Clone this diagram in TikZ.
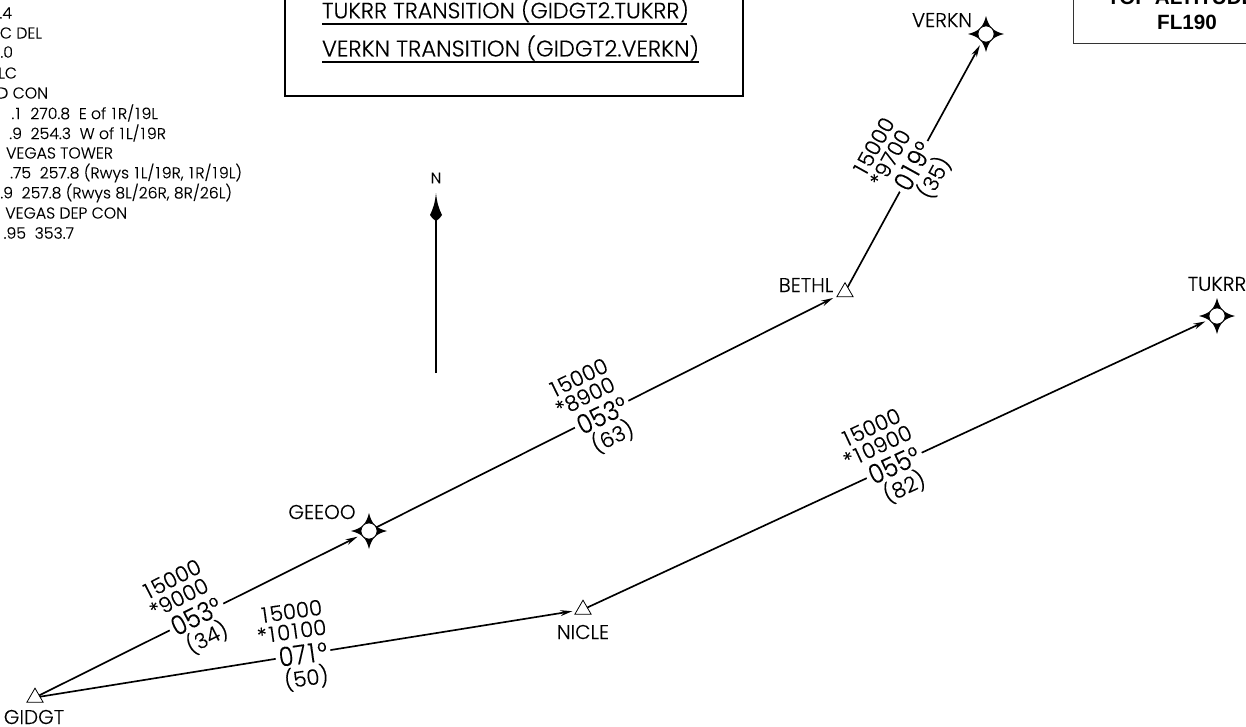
\documentclass[tikz,border=0pt]{standalone}
\usepackage{fontspec}
\usetikzlibrary{arrows.meta,shapes.geometric}
\setmainfont{Poppins Light}[FakeBold=0.2]
\newfontfamily\headf{Poppins Light}[FakeStretch=0.9,FakeBold=0.2]
\newfontfamily\boldf{Liberation Sans Bold}
\newcommand{\fs}[1]{\fontsize{#1}{#1}\selectfont}
\newcommand{\uno}{\kern.08em 1\kern.1em}
\tikzset{
 x=0.75pt,y=-0.75pt,
 inner sep=0pt,outer sep=0pt,
 wplabel/.style={font=\fs{15}},
 altlabel/.style={font=\fs{16}},
 headlabel/.style={font=\headf\fs{20},fill=white,inner xsep=2.4pt,inner ysep=0.5pt},
 info/.style={font=\fs{11.8},anchor=east},
 title/.style={font=\fs{17},anchor=west},
 triwp/.style={regular polygon,regular polygon sides=3,draw=black,line width=0.6pt,minimum size=14pt},
 starcore/.style={circle,draw=black,line width=0.5pt,fill=white,minimum size=12pt},
 leg/.style={line width=1.25pt,draw=black},
 legarrow/.style={leg,-{Stealth[length=9pt,width=4.4pt]},shorten >=3.6pt},
 boxline/.style={line width=1.5pt,draw=black},
 thinbox/.style={line width=0.75pt,draw=black!80},
 under/.style={line width=0.85pt,draw=black},
}
\newcommand{\wpstar}[3]{%
 \begin{scope}[shift={(#2,#3)}]
  \fill[black] (0,-18) .. controls (1.5,-12) and (3.5,-8) .. (6,-6)
   .. controls (8,-3.5) and (12,-1.5) .. (18,0)
   .. controls (12,1.5) and (8,3.5) .. (6,6)
   .. controls (3.5,8) and (1.5,12) .. (0,18)
   .. controls (-1.5,12) and (-3.5,8) .. (-6,6)
   .. controls (-8,3.5) and (-12,1.5) .. (-18,0)
   .. controls (-12,-1.5) and (-8,-3.5) .. (-6,-6)
   .. controls (-3.5,-8) and (-1.5,-12) .. (0,-18) -- cycle;
  \node[starcore] (#1) at (0,0) {};
 \end{scope}}
\newcommand{\leglab}[9]{%
 \begin{scope}[shift={(#2,#3)},rotate=#4,transform shape]
  \node[headlabel] (#1h) at (0,0) {#7};
  \node[altlabel] (#1a) at (-5+#9,-44) {#5};
  \node[altlabel] (#1b) at (-7+#9,-24) {#6};
  \node[altlabel] (#1c) at (0,24) {#8};
 \end{scope}}
\begin{document}
\begin{tikzpicture}
\useasboundingbox (0,0) rectangle (1246,726);
\clip (0,0) rectangle (1246,726);
% top-left information
\node[info] (i1) at (12,13) {.4};
\node[info] (i2) at (42,33) {C DEL};
\node[info] (i3) at (13,52) {.0};
\node[info] (i4) at (17,73) {LC};
\node[info] (i5) at (48,93) {D CON};
\node[info] (i6) at (158,113) {.\uno\ \ 270.8\ \ E of \uno R/\uno 9L};
\node[info] (i7) at (166,133) {.9\ \ 254.3\ \ W of \uno L/\uno 9R};
\node[info] (i8) at (113,153) {VEGAS TOWER};
\node[info] (i9) at (242,173) {.75\ \ 257.8 (Rwys \uno L/\uno 9R, \uno R/\uno 9L)};
\node[info] (i10) at (232,193) {.9\ \ 257.8 (Rwys 8L/26R, 8R/26L)};
\node[info] (i11) at (127,213) {VEGAS DEP CON};
\node[info] (i12) at (74,233) {.95\ \ 353.7};
% title box
\draw[boxline] (285,-5) -- (285,96) -- (743,96) -- (743,-5);
\node[title,font=\fs{16.7}] (t1) at (322,10) {TUKRR TRANSITION (GIDGT2.TUKRR)};
\node[title] (t2) at (322,48) {VERKN TRANSITION (GIDGT2.VERKN)};
\draw[under] (322,24) -- (687,24);
\draw[under] (322,62) -- (699,62);
% altitude box
\draw[thinbox] (1073,-5) -- (1073,43) -- (1250,43);
\node[font=\boldf\fs{15.5},anchor=west] (top) at (1107,-3) {TOP ALTITUDE};
\node[font=\boldf\fs{15.5}] (fl) at (1187,22) {FL190};
% north arrow
\node[font=\fs{11.5}] (north) at (436,178) {N};
\coordinate (nb) at (436,373);
\coordinate (nt) at (436,215);
\draw[line width=1.25pt] (nb) -- (nt);
\fill[black] (436,193) .. controls (437,203) and (439,209) .. (442,215)
 .. controls (440,218) and (438,220) .. (436,221)
 .. controls (434,220) and (432,218) .. (430,215)
 .. controls (433,209) and (435,203) .. (436,193) -- cycle;
% waypoints
\node[triwp] (gidgt) at (35,697.5) {};
\node[triwp] (nicle) at (583,609.5) {};
\node[triwp] (bethl) at (845,292) {};
\wpstar{geeoo}{369}{531}
\wpstar{verkn}{986}{34}
\wpstar{tukrr}{1217}{316}
\node[wplabel] (lgidgt) at (34,717) {GIDGT};
\node[wplabel] (lnicle) at (583,632) {NICLE};
\node[wplabel] (lbethl) at (806,285) {BETHL};
\node[wplabel] (lgeeoo) at (322,512) {GEEOO};
\node[wplabel] (lverkn) at (942,20) {VERKN};
\node[wplabel] (ltukrr) at (1217,284) {TUKRR};
% connectors
\draw[legarrow] (gidgt) -- (geeoo);
\draw[legarrow] (gidgt) -- (nicle);
\draw[legarrow] (geeoo) -- (bethl);
\draw[legarrow] (nicle) -- (tukrr);
\draw[legarrow] (bethl) -- (verkn);
% leg labels
\leglab{a}{196}{616}{27}{\uno 5000}{*9000}{053°}{(34)}{0}
\leglab{b}{303}{654}{8}{\uno 5000}{*\uno 0\uno 00}{07\uno°}{(50)}{-1}
\leglab{c}{602}{415}{26}{\uno 5000}{*8900}{053°}{(63)}{0}
\leglab{d}{894}{465}{25}{\uno 5000}{*\uno 0900}{055°}{(82)}{0}
\leglab{e}{913}{166}{61}{\uno 5000}{*9700}{0\uno 9°}{(35)}{3}
\end{tikzpicture}
\end{document}
